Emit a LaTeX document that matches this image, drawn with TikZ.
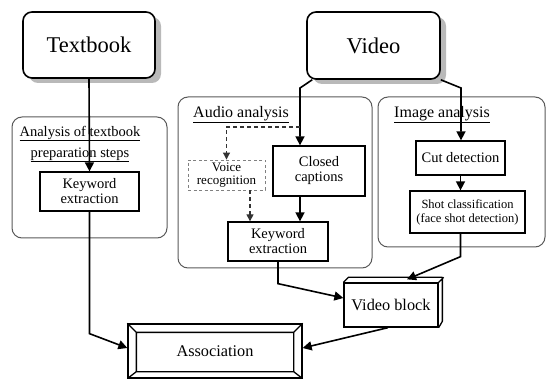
\documentclass[tikz,border=0pt]{standalone}
\usepackage{fontspec}
\setmainfont{Liberation Serif}
\usetikzlibrary{arrows.meta, calc, shadows}

\begin{document}
\begin{tikzpicture}[x=1pt, y=-1pt,
	src/.style={draw, line width=1.6pt, rounded corners=9pt, fill=white,
		minimum width=132pt, minimum height=66pt,
		font=\fontsize{22.5}{27}\selectfont,
		drop shadow={shadow xshift=6pt, shadow yshift=-5pt, fill=gray!55, opacity=1}},
	proc/.style={draw, line width=1.3pt, fill=white, align=center, inner sep=0pt,
		font=\fontsize{14.5}{15}\selectfont},
	group/.style={draw=gray!70!black, line width=1pt, rounded corners=10pt},
	title/.style={font=\fontsize{16}{19}\selectfont},
	arr/.style={line width=1.6pt, -{Triangle[length=9pt, width=9pt]}},
	darr/.style={line width=1.1pt, dash pattern=on 4pt off 3pt, draw=gray!40!black,
		-{Triangle[length=7pt, width=7pt]}}]
	
	\useasboundingbox (0,0) rectangle (546,379);
	
	% analysis groups
	\draw[group] (12,117) rectangle (167,238);
	\draw[group] (178,97) rectangle (372,268);
	\draw[group] (378,97) rectangle (545,247);
	\node[align=center, font=\fontsize{14.5}{21}\selectfont] (ttext) at (80,144)
		{\underline{Analysis of textbook}\\\underline{preparation steps}};
	\node[title] (taudio) at (241,115) {\underline{Audio analysis}};
	\node[title] (timage) at (442,115) {\underline{Image analysis}};
	
	% sources
	\node[src] (textbook) at (89,45) {Textbook};
	\node[src, minimum width=133pt, minimum height=67pt] (video) at (373.5,45.5) {Video};
	
	% processing steps
	\node[proc, minimum width=99pt, minimum height=39pt] (kwtext) at (89.5,191.5) {Keyword\\extraction};
	\node[proc, minimum width=92pt, minimum height=50pt] (captions) at (319,171) {Closed\\captions};
	\node[proc, draw=gray, line width=0.9pt, dash pattern=on 3pt off 2.5pt,
		minimum width=77pt, minimum height=30pt, font=\fontsize{13}{13}\selectfont]
		(voice) at (226.5,175) {Voice\\recognition};
	\node[proc, minimum width=100pt, minimum height=39pt] (kwaudio) at (278,241.5) {Keyword\\extraction};
	\node[proc, minimum width=89pt, minimum height=34pt] (cut) at (460.5,158) {Cut detection};
	\node[proc, minimum width=115pt, minimum height=42pt, font=\fontsize{12.5}{14}\selectfont]
		(shot) at (467.5,212) {Shot classification\\(face shot detection)};
	
	% video block (box with depth)
	\node[proc, minimum width=94pt, minimum height=44pt, font=\fontsize{16.3}{19}\selectfont]
		(vblock) at (391,305) {Video block};
	\draw[line width=1.3pt, line join=round]
		(vblock.north west) -- ++(5,-5) -- ++(94,0) -- ++(0,44) -- (vblock.south east)
		(vblock.north east) -- ++(5,-5);
	
	% association (bevelled frame)
	\node[draw, line width=1.3pt, minimum width=174pt, minimum height=54pt,
		font=\fontsize{16.3}{19}\selectfont] (assoc) at (215,351) {Association};
	\draw[line width=1.3pt]
		([shift={(9pt,-9pt)}]assoc.north west) rectangle ([shift={(-9pt,7pt)}]assoc.south east)
		(assoc.north west) -- ([shift={(9pt,-9pt)}]assoc.north west)
		(assoc.north east) -- ([shift={(-9pt,-9pt)}]assoc.north east)
		(assoc.south west) -- ([shift={(9pt,7pt)}]assoc.south west)
		(assoc.south east) -- ([shift={(-9pt,7pt)}]assoc.south east);
	
	% connectors
	\coordinate (vl) at (300,88);
	\coordinate (vr) at (461,88);
	\coordinate (tap) at (300,127);
	\draw[arr] (textbook.south) -- (kwtext.north);
	\draw[arr] (kwtext.south) -- ++(0,122) -- ([yshift=3pt]assoc.west);
	\draw[arr] ([xshift=6pt]video.south west) -- (vl) -- (vl |- captions.north);
	\draw[arr] (video.south east) -- (vr) -- (vr |- cut.north);
	\draw[darr] (tap) -| (voice.north);
	\draw[darr] ([xshift=23.5pt]voice.south) -- ([xshift=23.5pt]voice.south |- kwaudio.north);
	\draw[arr] (vl |- captions.south) -- (vl |- kwaudio.north);
	\draw[arr] (cut.south) -- (cut.south |- shot.north);
	\draw[arr] (shot.south -| cut.south) -- ++(0,23) -- ([shift={(16pt,3pt)}]vblock.north);
	\draw[arr] (kwaudio.south) -- ++(0,22) -- ([yshift=7pt]vblock.west);
	\draw[arr] ([xshift=-3pt]vblock.south) -- ([yshift=3pt]assoc.east);
	
\end{tikzpicture}
\end{document}
